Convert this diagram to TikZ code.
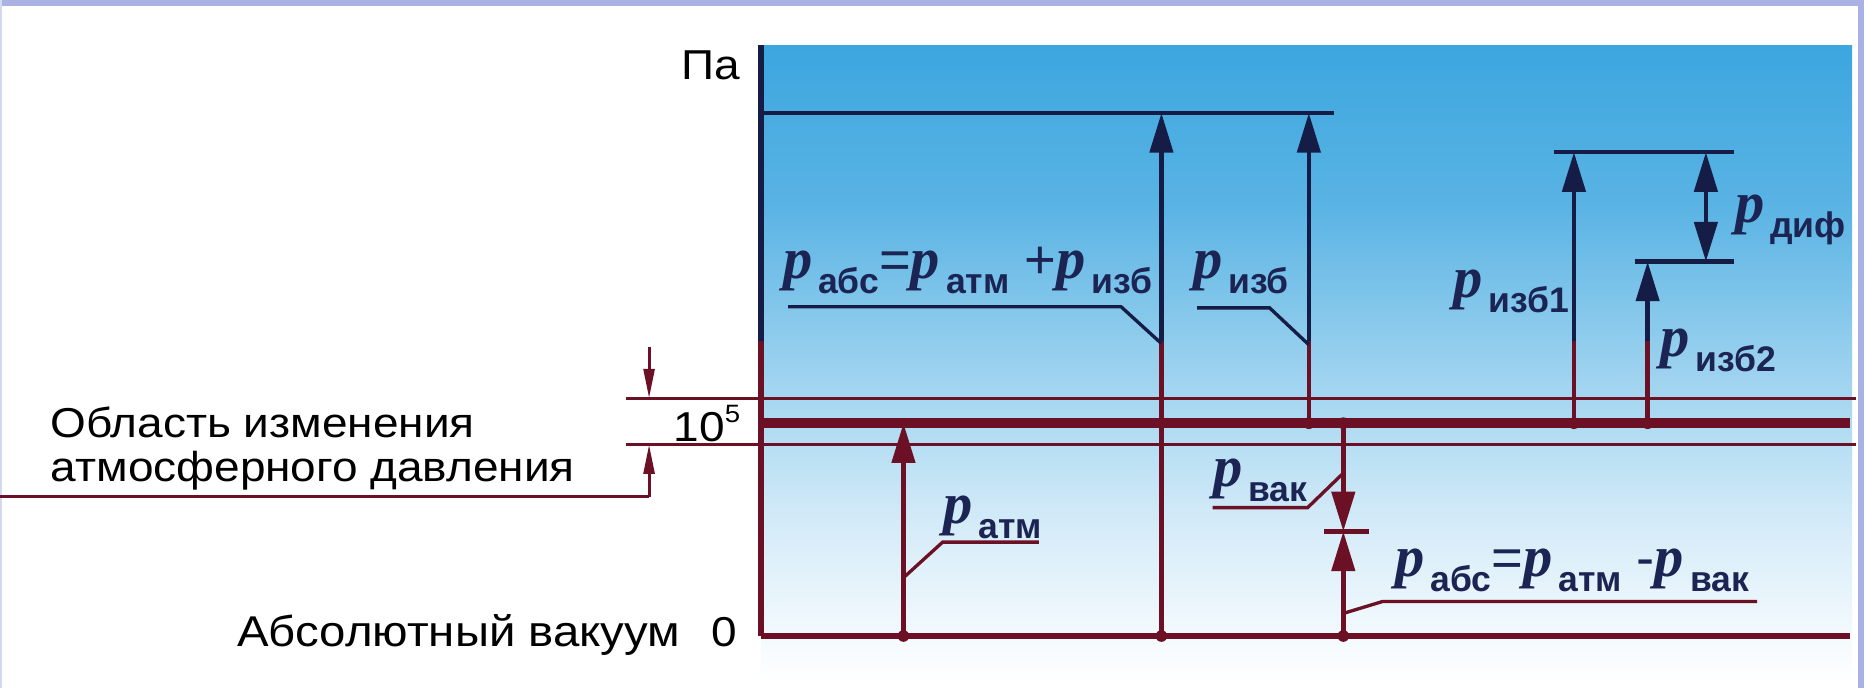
\documentclass[tikz,border=0pt]{standalone}
\usepackage{fontspec}
\setmainfont{Liberation Sans}
\newfontfamily\wide[FakeStretch=1.1]{Liberation Sans}
\newfontfamily\pserif{Liberation Serif}
\usetikzlibrary{arrows.meta}

\definecolor{lavender}{HTML}{AAB1E3}
\definecolor{ink}{HTML}{151C45}
\definecolor{wine}{HTML}{6C1125}
\definecolor{sky}{HTML}{3CA6DF}
\definecolor{txt}{HTML}{1B2452}

% the picture fills 25bp..75bp of the shading
\pgfdeclareverticalshading{skyfade}{100bp}{%
  color(0bp)=(white); color(25bp)=(white); color(28.75bp)=(sky!6!white);
  color(37.5bp)=(sky!22!white); color(50bp)=(sky!52!white);
  color(62.5bp)=(sky!85!white); color(75bp)=(sky); color(100bp)=(sky)}

% p with a sans subscript
\newcommand{\pv}[1]{{\fontsize{14}{16}\pserif\bfseries\itshape p}\kern1.4pt\raisebox{-3.6pt}{\fontsize{8.5}{10}\selectfont\bfseries #1}}

\begin{document}
\begin{tikzpicture}[x=0.01cm, y=-0.01cm,
  hi/.style={draw=ink, line width=1.1pt},
  lo/.style={draw=wine, line width=1.1pt},
  thinlo/.style={draw=wine, line width=0.7pt},
  arr/.style={-{Triangle[length=9.5pt,width=5.5pt]}},
  dimarr/.style={-{Triangle[length=7pt,width=2.6pt]}},
  plbl/.style={anchor=base west, inner sep=0pt, text=txt, font=\fontsize{13}{15}\selectfont},
  tlbl/.style={anchor=base west, inner sep=0pt, font=\fontsize{10}{12}\wide}
]
  % background and frame
  \fill[white] (0,0) rectangle (1568,579);
  \useasboundingbox (0,0) rectangle (1568,579);
  \shade[shading=skyfade] (640,38) rectangle (1558,575);
  \fill[lavender] (0,0) rectangle (1568,5);
  \fill[lavender!50!white] (0,0) rectangle (2,579);
  \fill[lavender] (1563,0) rectangle (1568,579);

  % levels
  \draw[thinlo] (527,335) -- (1561,335);
  \draw[thinlo] (527,374) -- (1561,374);
  \draw[wine, line width=2.4pt] (640,356) -- (1556,356);
  \draw[wine, line width=1.4pt] (640,535) -- (1556,535);
  \draw[hi, line width=1.4pt] (640,38) -- (640,287);
  \draw[lo, line width=1.4pt] (640,287) -- (640,535);
  \draw[hi] (640,95) -- (1122,95);
  \draw[hi] (1307,128) -- (1459,128);
  \draw[hi] (1375,220) -- (1459,220);

  % pressure arrows
  \foreach \x/\b/\t in {977/535/95, 1101/356/95, 1324/356/128, 1386/356/220} {
    \draw[lo] (\x,\b) -- (\x,287);
    \draw[hi, arr] (\x,287) -- (\x,\t);
  }
  \draw[hi, {Triangle[length=9.5pt,width=5.5pt]}-{Triangle[length=9.5pt,width=5.5pt]}] (1435,128) -- (1435,220);
  \draw[lo, arr] (760,535) -- (760,356);
  \draw[lo, arr] (1130,356) -- (1130,447);
  \draw[lo, arr] (1130,535) -- (1130,447);
  \draw[lo] (1114,447) -- (1152,447);
  \foreach \x/\y in {760/535, 977/535, 1130/535, 1130/356, 1101/356, 1324/356, 1386/356}
    \fill[wine] (\x,\y) circle[radius=1.4pt];

  % band of atmospheric pressure
  \draw[thinlo, dimarr] (546,292) -- (546,335);
  \draw[thinlo] (0,418) -- (546,418);
  \draw[thinlo, dimarr] (546,418) -- (546,374);

  % leaders
  \draw[hi, line width=0.8pt] (663,258) -- (943,258) -- (977,289);
  \draw[hi, line width=0.8pt] (1007,259) -- (1068,259) -- (1101,290);
  \draw[lo, line width=0.8pt] (760,486) -- (793,456) -- (874,456);
  \draw[lo, line width=0.8pt] (1130,398) -- (1100,427) -- (1020,427);
  \draw[lo, line width=0.8pt] (1130,516) -- (1163,506) -- (1478,506);

  % texts
  \node[tlbl, anchor=base east] (pa) at (623,67) {Па};
  \node[tlbl] (area1) at (42,368) {Область изменения};
  \node[tlbl] (area2) at (42,405) {атмосферного давления};
  \node[tlbl] (e5) at (566,371) {10\raisebox{0.45em}{\fontsize{6}{7}\wide 5}};
  \node[tlbl, font=\fontsize{10.3}{12}\wide] (vac) at (199,544) {Абсолютный вакуум};
  \node[tlbl] (zero) at (598,544) {0};

  \node[plbl] (absplus) at (658,234) {\pv{абс}=\pv{атм} +\pv{изб}};
  \node[plbl] (izb) at (1003,234) {\pv{изб}};
  \node[plbl] (izb1) at (1222,250) {\pv{изб1}};
  \node[plbl] (izb2) at (1396,300) {\pv{изб2}};
  \node[plbl] (dif) at (1459,187) {\pv{диф}};
  \node[plbl] (atm) at (793,440) {\pv{атм}};
  \node[plbl] (vak) at (1020,409) {\pv{вак}};
  \node[plbl] (absminus) at (1173,485) {\pv{абс}=\pv{атм} -\pv{вак}};
\end{tikzpicture}
\end{document}
